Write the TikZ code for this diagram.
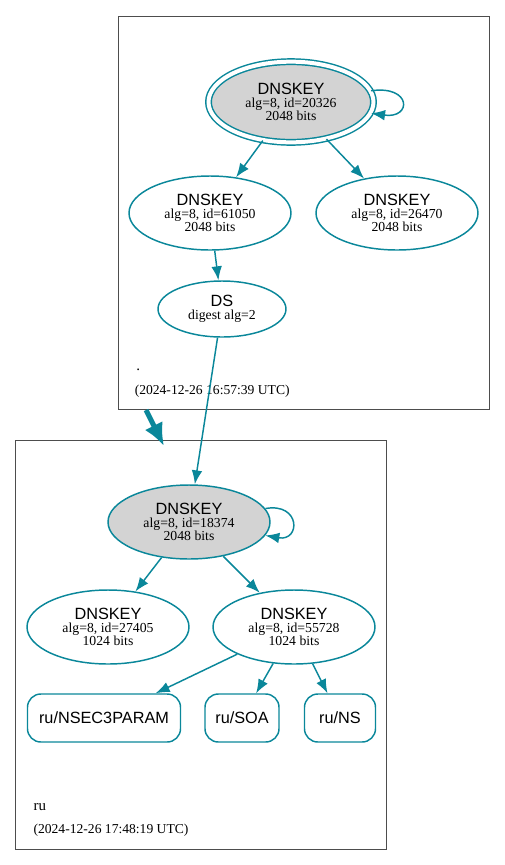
\documentclass[tikz,border=0pt]{standalone}
\usepackage{fontspec}
\setmainfont{Liberation Serif}
\setsansfont{Liberation Sans}
\usepackage{tikz}
\usetikzlibrary{shapes.geometric, positioning, arrows.meta}

\definecolor{dnsteal}{HTML}{0A879A}
\definecolor{keygray}{HTML}{D3D3D3}
\definecolor{zonegray}{HTML}{4D4D4D}

\newcommand{\keytext}[2]{{\sffamily\fontsize{12.2}{10}\selectfont DNSKEY}\\alg=8, id=#1\\#2 bits}

\begin{document}
\begin{tikzpicture}[x=0.75pt, y=-0.75pt, on grid, >={Latex[length=10.5pt,width=8pt]},
    key/.style={ellipse, draw=dnsteal, line width=1.1pt, inner sep=0pt,
      minimum width=121.5pt, minimum height=55.5pt, align=center,
      font=\fontsize{10.3}{10}\selectfont},
    ksk/.style={key, fill=keygray},
    rrset/.style={rectangle, rounded corners=10pt, draw=dnsteal, line width=1.1pt,
      minimum height=36pt, font=\sffamily\fontsize{12.2}{13}\selectfont},
    zone/.style={draw=zonegray, line width=0.7pt},
    zonename/.style={anchor=base west, inner sep=0pt, font=\fontsize{11.2}{13}\selectfont},
    stamp/.style={anchor=base west, inner sep=0pt, font=\fontsize{10.2}{12}\selectfont}]

  \useasboundingbox (0,0) rectangle (505,865);

  % zone boxes
  \draw[zone] (118,16) rectangle (489,409);
  \draw[zone] (15,440) rectangle (386,849);

  % root zone
  \node[ksk, double=white, double distance=3pt, minimum width=123.75pt, minimum height=60.5pt]
    (rootksk) at (291,102) {\keytext{20326}{2048}};
  \node[key] (k61050) [below left=83.25pt and 60.75pt of rootksk] {\keytext{61050}{2048}};
  \node[key] (k26470) [below right=83.25pt and 79.5pt of rootksk] {\keytext{26470}{2048}};
  \node[key, minimum width=96pt, minimum height=42pt] (ds) [below right=72pt and 9pt of k61050]
    {{\sffamily\fontsize{12.2}{10}\selectfont DS}\\digest alg=2};
  \node[zonename] (rootname) at (136,370.5) {.};
  \node[stamp] (rootstamp) at (134.5,394.5) {(2024-12-26 16:57:39 UTC)};

  % ru zone
  \node[ksk] (ruksk) [below left=159.75pt and 24.75pt of ds] {\keytext{18374}{2048}};
  \node[key] (k27405) [below left=78.75pt and 60.75pt of ruksk] {\keytext{27405}{1024}};
  \node[key] (k55728) [below right=78.75pt and 78.75pt of ruksk] {\keytext{55728}{1024}};
  \node[rrset, minimum width=55.5pt] (soa) [below left=68.25pt and 39pt of k55728] {ru/SOA};
  \node[rrset, minimum width=53.25pt] (ns) [below right=68.25pt and 34.5pt of k55728] {ru/NS};
  \node[rrset, minimum width=114.75pt] (nsec) [left=103.5pt of soa] {ru/NSEC3PARAM};
  \node[zonename] (runame) at (33.3,810.5) {ru};
  \node[stamp] (rustamp) at (33.3,833) {(2024-12-26 17:48:19 UTC)};

  % delegation
  \coordinate (linkstart) at (146,410);
  \coordinate (linkend) at (164,446);
  \draw[dnsteal, line width=3.75pt, -{Latex[length=17pt,width=15pt]}] (linkstart) -- (linkend);

  \path[->, dnsteal, line width=1.1pt]
    (rootksk) edge[out=8, in=-8, min distance=31pt] (rootksk)
    (rootksk) edge (k61050)
    (rootksk) edge (k26470)
    (k61050) edge (ds)
    (ds) edge (ruksk)
    (ruksk) edge[out=10, in=-10, min distance=27pt] (ruksk)
    (ruksk) edge (k27405)
    (ruksk) edge (k55728)
    (k55728) edge (nsec)
    (k55728) edge (soa)
    (k55728) edge (ns);

\end{tikzpicture}
\end{document}
